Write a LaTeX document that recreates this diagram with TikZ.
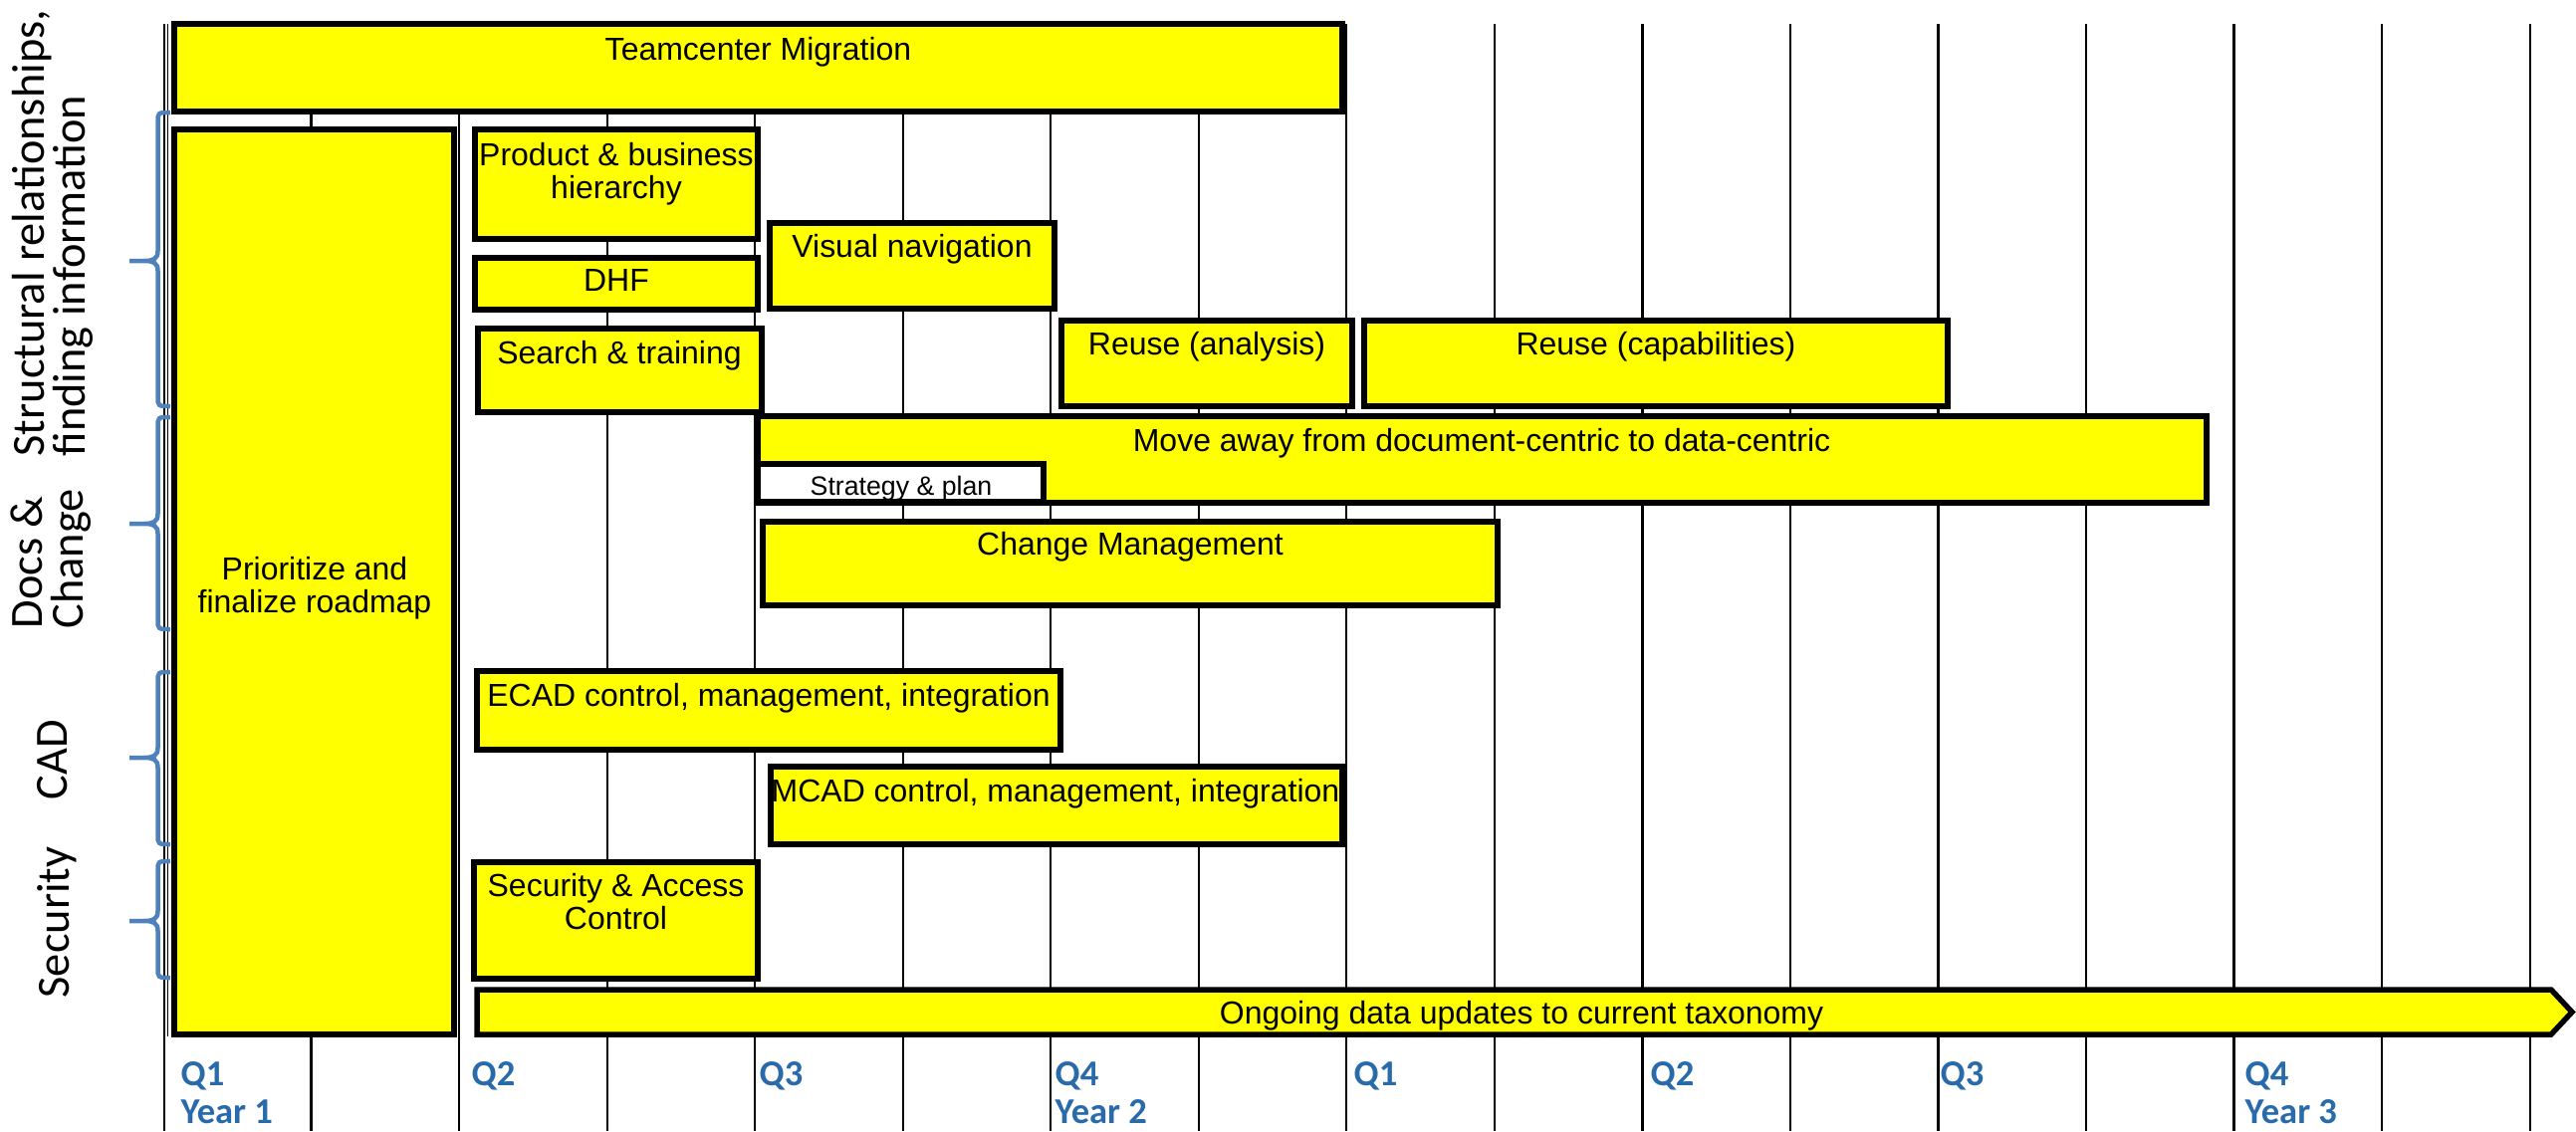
\documentclass[tikz,border=0pt]{standalone}
\usepackage{fontspec}
\setmainfont{Liberation Sans}
\newfontfamily\calibri{Carlito}
\definecolor{braceblue}{RGB}{79,129,189}
\definecolor{qblue}{RGB}{40,106,170}
\definecolor{baryellow}{RGB}{255,255,0}
\newcommand\barfont{\fontsize{9.1pt}{9.4pt}\selectfont}
\newcommand\smallbarfont{\fontsize{7.6pt}{8pt}\selectfont}
\newcommand\sidefont{\calibri\fontsize{13.2pt}{11.6pt}\selectfont\lineskiplimit=-10pt}
\newcommand\qfont{\calibri\bfseries\fontsize{10.4pt}{10.8pt}\selectfont}
\begin{document}
\begin{tikzpicture}[x=0.1mm,y=-0.1mm,
  bar/.style={draw,line width=0.55mm,fill=baryellow},
  bartext/.style={anchor=north,inner sep=0pt,align=center,font=\barfont},
  side/.style={rotate=90,anchor=north west,inner sep=0pt,align=left,font=\sidefont},
  brace/.style={draw=braceblue,line width=0.45mm},
  quarter/.style={anchor=north west,inner sep=0pt,align=left,font=\qfont,text=qblue}]
\useasboundingbox (0,0) rectangle (2587,1136);

% time grid
\foreach \k in {1,...,16}
  \draw[line width=0.22mm] (164+\k*148.54,24) -- (164+\k*148.54,1136);
\draw[line width=0.22mm] (165,24) -- (165,1136);
\draw[line width=0.15mm] (168.5,24) -- (168.5,1041);

% braces for the work streams
\foreach \t/\m/\b in {113/262/408, 419/526/632, 675/761/848, 865/925/982}
  \draw[brace] (171,\t) .. controls (158.5,\t) .. (158.5,\t+10) -- (158.5,\m-10)
    .. controls (158.5,\m-2) and (154,\m) .. (145,\m) -- (130,\m) -- (145,\m)
    .. controls (154,\m) and (158.5,\m+2) .. (158.5,\m+10) -- (158.5,\b-10)
    .. controls (158.5,\b) .. (171,\b);

\node[side] (lblStruct) at (12,459) {Structural relationships,\\finding information};
\node[side] (lblDocs) at (10,632) {Docs \&\\Change};
\node[side] (lblCad) at (37,804) {CAD};
\node[side] (lblSec) at (37,1003) {Security};

% bars
\draw[bar] (175,24) rectangle (1348,112);
\node[bartext] (tcText) at (761.5,37) {Teamcenter Migration};
\draw[bar] (175,130) rectangle (456,1039);
\node[bartext] (prText) at (316,559) {Prioritize and\\finalize roadmap};
\draw[bar] (477,130) rectangle (761,240);
\node[bartext] (pbText) at (619,143) {Product \& business\\hierarchy};
\draw[bar] (477,259) rectangle (761,311);
\node[bartext] (dhfText) at (619,270) {DHF};
\draw[bar] (773,224) rectangle (1059,310);
\node[bartext] (vnText) at (916,235) {Visual navigation};
\draw[bar] (480,330) rectangle (765,414);
\node[bartext] (stText) at (622,342) {Search \& training};
\draw[bar] (1066,322) rectangle (1358,408);
\node[bartext] (raText) at (1212,333) {Reuse (analysis)};
\draw[bar] (1370,322) rectangle (1956,408);
\node[bartext] (rcText) at (1663,333) {Reuse (capabilities)};
\draw[bar] (761,418) rectangle (2216,505);
\node[bartext] (mvText) at (1488,430) {Move away from document-centric to data-centric};
\draw[bar,fill=white] (761,466) rectangle (1048,504);
\node[bartext,font=\smallbarfont] (spText) at (905,477) {Strategy \& plan};
\draw[bar] (766,524) rectangle (1504,608);
\node[bartext] (cmText) at (1135,534) {Change Management};
\draw[bar] (479,674) rectangle (1065,753);
\node[bartext] (ecadText) at (772,686) {ECAD control, management, integration};
\draw[bar] (774,770) rectangle (1348,848);
\node[bartext] (mcadText) at (1060,782) {MCAD control, management, integration};
\draw[bar] (476,866) rectangle (761,983);
\node[bartext] (sacText) at (618.5,877) {Security \& Access\\Control};
\draw[bar] (479,994) -- (2562,994) -- (2583,1016.5) -- (2562,1039) -- (479,1039) -- cycle;
\node[bartext] (ogText) at (1528,1005) {Ongoing data updates to current taxonomy};

% quarters
\node[quarter] (q1a) at (181,1066) {Q1\\Year 1};
\node[quarter] (q2a) at (473,1066) {Q2};
\node[quarter] (q3a) at (762,1066) {Q3};
\node[quarter] (q4a) at (1059,1066) {Q4\\Year 2};
\node[quarter] (q1b) at (1359,1066) {Q1};
\node[quarter] (q2b) at (1657,1066) {Q2};
\node[quarter] (q3b) at (1948,1066) {Q3};
\node[quarter] (q4b) at (2254,1066) {Q4\\Year 3};
\end{tikzpicture}
\end{document}
